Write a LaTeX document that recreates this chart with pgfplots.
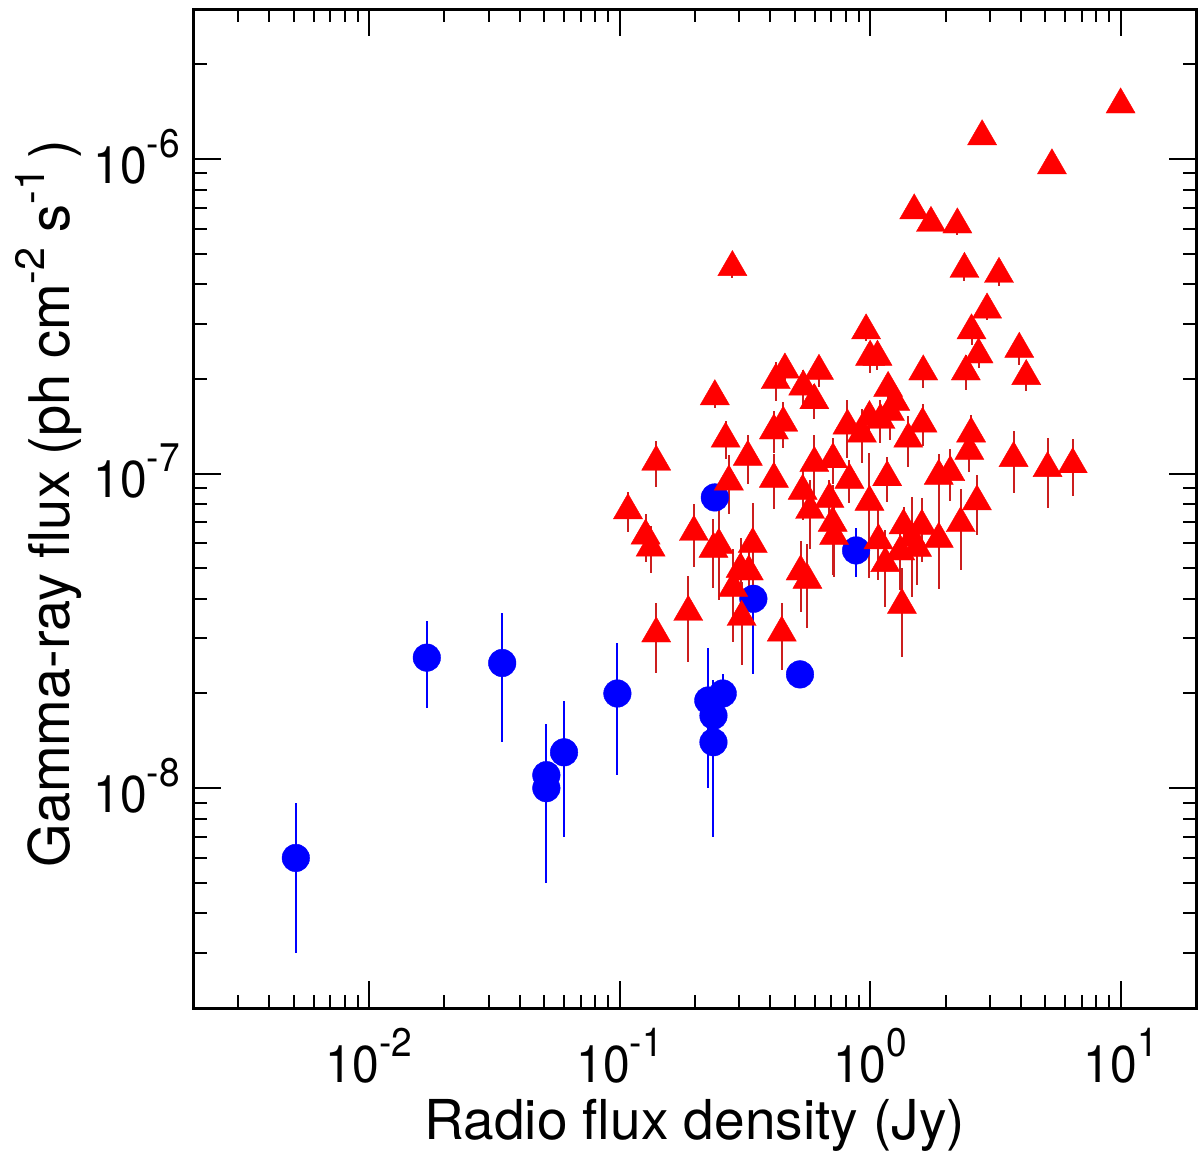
\documentclass[border=0pt]{standalone}
\usepackage{fontspec}
\setmainfont{TeX Gyre Heros}
\usepackage{pgfplots}
\pgfplotsset{compat=1.18}
\usepackage{pgfplotstable}
\definecolor{ebred}{RGB}{204,30,30}
\newcommand{\tlab}[1]{\scalebox{1}[1.08]{10\raisebox{12pt}{\fontsize{18.5}{18.5}\selectfont #1}}}
\newcommand{\supr}[1]{\raisebox{12.5pt}{\fontsize{20.5}{20.5}\selectfont #1}}

\pgfplotstableread{
x y e
0.0051 6.0e-9 3.0e-9
0.017 2.6e-8 0.8e-8
0.034 2.5e-8 1.1e-8
0.051 1.1e-8 0.5e-8
0.051 1.0e-8 0.5e-8
0.060 1.3e-8 0.6e-8
0.098 2.0e-8 0.9e-8
0.226 1.9e-8 0.9e-8
0.258 2.0e-8 0.3e-8
0.237 1.7e-8 0.5e-8
0.237 1.4e-8 0.7e-8
0.240 8.4e-8 0.5e-8
0.342 4.0e-8 1.7e-8
0.525 2.3e-8 0.2e-8
0.879 5.7e-8 1.0e-8
}\bluedata

\pgfplotstableread{
x y e
10.0 1.49e-6 0
2.80 1.18e-6 0
5.32 9.54e-7 0
1.50 6.86e-7 0
1.75 6.26e-7 0
2.23 6.19e-7 4.4e-8
0.282 4.53e-7 3.3e-8
2.38 4.47e-7 3.6e-8
3.27 4.31e-7 3.5e-8
2.93 3.32e-7 2.4e-8
0.964 2.85e-7 2.0e-8
2.54 2.85e-7 2.8e-8
1.00 2.35e-7 2.6e-8
1.07 2.35e-7 2.1e-8
2.71 2.39e-7 2.2e-8
2.41 2.11e-7 2.7e-8
3.94 2.49e-7 2.8e-8
4.20 2.04e-7 2.1e-8
1.63 2.11e-7 2.4e-8
0.420 1.98e-7 2.8e-8
0.457 2.14e-7 2.3e-8
0.625 2.12e-7 2.3e-8
0.541 1.89e-7 2.5e-8
0.599 1.71e-7 2.2e-8
0.240 1.76e-7 1.4e-8
0.413 1.37e-7 2.1e-8
0.450 1.45e-7 2.4e-8
0.265 1.29e-7 1.8e-8
0.325 1.13e-7 2.0e-8
0.140 1.09e-7 1.8e-8
0.413 9.62e-8 1.9e-8
0.273 9.43e-8 2.0e-8
0.599 1.08e-7 2.5e-8
0.711 1.11e-7 1.85e-8
0.538 8.81e-8 1.7e-8
0.576 7.66e-8 1.9e-8
0.688 8.31e-8 1.2e-8
0.827 9.55e-8 1.5e-8
1.17 9.73e-8 1.6e-8
1.88 9.83e-8 1.7e-8
2.09 1.01e-7 1.9e-8
0.994 8.13e-8 3.47e-8
0.108 7.64e-8 1.1e-8
0.127 6.35e-8 1.1e-8
0.133 5.81e-8 0.99e-8
0.198 6.52e-8 1.46e-8
0.237 5.76e-8 1.43e-8
0.249 5.93e-8 1.97e-8
0.340 5.97e-8 2.1e-8
0.304 4.97e-8 1.29e-8
0.328 4.88e-8 0.92e-8
0.284 4.33e-8 1.41e-8
0.307 3.50e-8 1.04e-8
0.188 3.63e-8 1.11e-8
0.140 3.10e-8 0.78e-8
0.444 3.12e-8 0.75e-8
0.528 4.88e-8 1.24e-8
0.562 4.59e-8 1.37e-8
0.709 6.97e-8 2.2e-8
0.718 6.33e-8 1.64e-8
1.08 6.13e-8 1.54e-8
1.15 5.19e-8 1.42e-8
1.36 6.84e-8 1.0e-8
1.32 5.65e-8 1.38e-8
1.47 6.24e-8 2.18e-8
1.61 6.82e-8 1.57e-8
1.54 5.80e-8 1.38e-8
1.88 6.20e-8 1.91e-8
2.30 6.95e-8 2.0e-8
2.67 8.15e-8 1.77e-8
1.34 3.82e-8 1.2e-8
1.18 1.87e-7 2.0e-8
0.812 1.42e-7 3.0e-8
0.927 1.34e-7 2.6e-8
0.994 1.51e-7 1.8e-8
1.10 1.48e-7 2.3e-8
1.20 1.57e-7 2.9e-8
1.26 1.69e-7 2.0e-8
1.62 1.44e-7 2.2e-8
1.42 1.29e-7 2.4e-8
2.53 1.34e-7 2.0e-8
2.49 1.18e-7 1.7e-8
3.74 1.12e-7 2.5e-8
5.11 1.04e-7 2.6e-8
6.44 1.07e-7 2.2e-8
}\reddata

\begin{document}
\begin{tikzpicture}
\useasboundingbox (0,0) rectangle (600pt,575.5pt);
\begin{axis}[
  at={(97pt,71.5pt)}, anchor=south west,
  scale only axis, width=501pt, height=499.5pt,
  xmode=log, ymode=log,
  xmin=0.002, xmax=20, ymin=2e-9, ymax=3e-6,
  axis line style={line width=1.5pt},
  every tick/.style={black, line width=1pt},
  major tick length=13.5pt, minor tick length=6.75pt,
  tick align=inside,
  xtick={0.01,0.1,1,10},
  xticklabels={\tlab{-2},\tlab{-1},\tlab{0},\tlab{1}},
  ytick={1e-8,1e-7,1e-6},
  yticklabels={\tlab{-8},\tlab{-7},\tlab{-6}},
  minor xtick={0.003,0.004,0.005,0.006,0.007,0.008,0.009,0.02,0.03,0.04,0.05,0.06,0.07,0.08,0.09,0.2,0.3,0.4,0.5,0.6,0.7,0.8,0.9,2,3,4,5,6,7,8,9},
  minor ytick={3e-9,4e-9,5e-9,6e-9,7e-9,8e-9,9e-9,2e-8,3e-8,4e-8,5e-8,6e-8,7e-8,8e-8,9e-8,2e-7,3e-7,4e-7,5e-7,6e-7,7e-7,8e-7,9e-7,2e-6},
  xticklabel style={font=\fontsize{24}{24}\selectfont, anchor=base, inner sep=0pt, yshift=-37pt},
  yticklabel style={font=\fontsize{24}{24}\selectfont, anchor=base east, inner sep=0pt, xshift=-7pt, yshift=-12pt},
  xlabel={Radio flux density (Jy)},
  ylabel={Gamma-ray flux (ph cm\supr{-2} s\supr{-1}\,)},
  xlabel style={font=\fontsize{27.5}{27.5}\selectfont, at={(axis description cs:0.5,-0.1321)}, anchor=base, inner sep=0pt},
  ylabel style={font=\fontsize{28}{28}\selectfont, at={(axis description cs:-0.1238,0.505)}, anchor=base, inner sep=0pt},
]
\addplot[only marks, mark=*, mark size=6.9pt, mark options={fill=blue, draw=blue, line width=0.2pt},
  error bars/.cd, y dir=both, y explicit, error mark=none,
  error bar style={blue, line width=1pt}]
  table[x=x, y=y, y error=e] {\bluedata};
\addplot[only marks, mark=triangle*, mark size=8.4pt, mark options={fill=red, draw=red, line width=0.2pt},
  error bars/.cd, y dir=both, y explicit, error mark=none,
  error bar style={ebred, line width=1pt}]
  table[x=x, y=y, y error=e] {\reddata};
\end{axis}
\end{tikzpicture}
\end{document}
